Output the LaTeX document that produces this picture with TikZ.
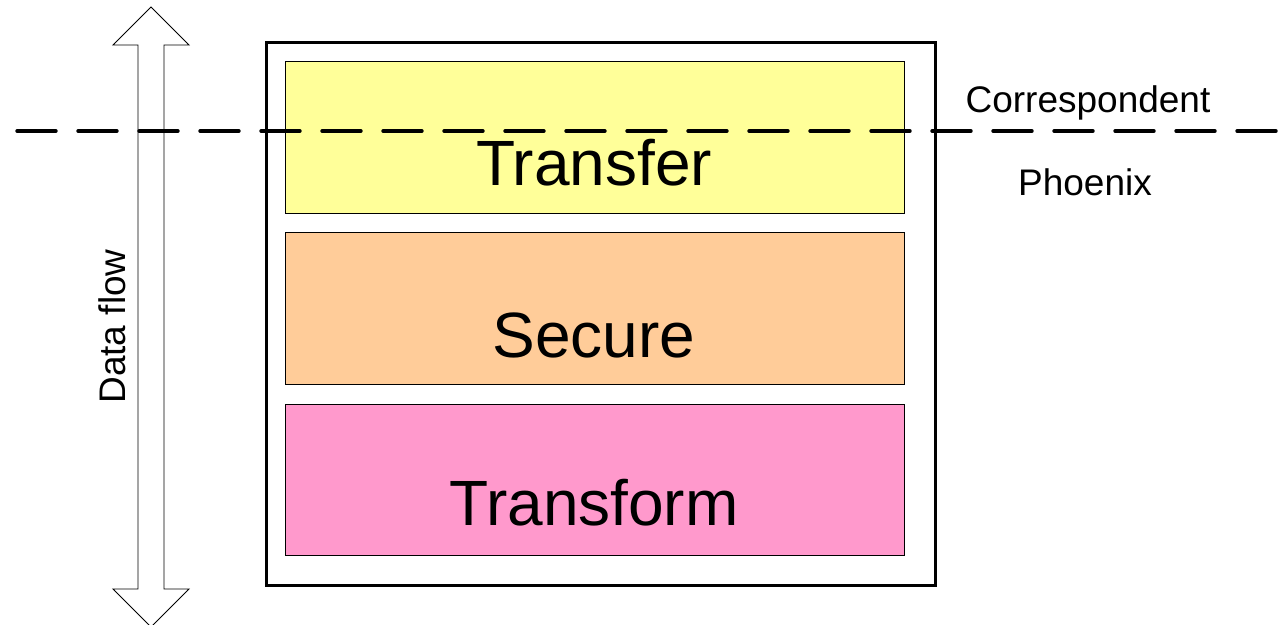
\documentclass[tikz,border=0pt]{standalone}
\usepackage{fontspec}
\setmainfont{Liberation Sans}
\definecolor{lyellow}{HTML}{FFFF99}
\definecolor{lorange}{HTML}{FFCC99}
\definecolor{lpink}{HTML}{FF99CC}
\tikzset{
  layer/.style={draw=black, line width=0.8pt, minimum width=619pt, minimum height=152pt, inner sep=0pt, anchor=north west},
  bigtext/.style={font=\fontsize{64}{70}\selectfont, anchor=base, inner sep=0pt},
  smalltext/.style={font=\fontsize{37}{42}\selectfont, anchor=base, inner sep=0pt},
  outerbox/.style={draw=black, line width=3.2pt, inner sep=0pt, anchor=north west, minimum width=669pt, minimum height=543pt},
  blockarrow/.style={draw=black, line width=0.9pt, fill=white, line join=miter},
  divider/.style={line width=3.4pt, line cap=round, dash pattern=on 39pt off 22pt}
}
\begin{document}
\begin{tikzpicture}[x=1pt,y=-1pt]
\useasboundingbox (0,0) rectangle (1282,624);
\clip (0,0) rectangle (1282,624);
% data flow arrow
\draw[blockarrow] (151,7) -- (189,45) -- (164,45) -- (164,589) -- (189,589) -- (151,627)
  -- (113,589) -- (138,589) -- (138,45) -- (113,45) -- cycle;
\node[smalltext, rotate=90] (df) at (125,326.5) {Data flow};
% outer box
\node[outerbox] (outer) at (265,41) {};
% layers
\node[layer, fill=lyellow] (transferbox) at (285,61) {};
\node[layer, fill=lorange] (securebox) at (285,232) {};
\node[layer, fill=lpink, minimum height=151pt] (transformbox) at (285,404) {};
\node[bigtext] (transfer) at (594,185) {Transfer};
\node[bigtext] (secure) at (594,357) {Secure};
\node[bigtext] (transform) at (594,525) {Transform};
% divider
\coordinate (dl) at (17,131);
\coordinate (dr) at (1290,131);
\draw[divider] (dl) -- (dr);
\node[smalltext] (corr) at (1088,112) {Correspondent};
\node[smalltext] (phx) at (1085,195) {Phoenix};
\end{tikzpicture}
\end{document}
